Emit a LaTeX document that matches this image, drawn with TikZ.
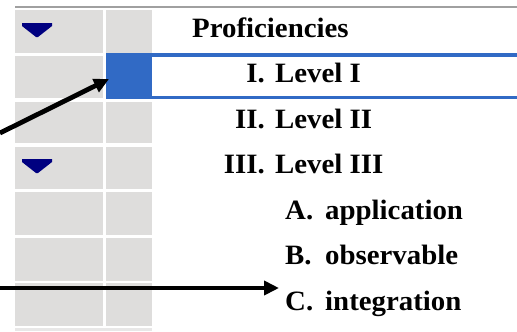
\documentclass[tikz,border=0pt]{standalone}
\usepackage{fontspec}
\setmainfont{Liberation Serif}[FakeStretch=1.03]
\usetikzlibrary{arrows.meta}
\definecolor{cellgray}{RGB}{222,221,220}
\definecolor{selblue}{RGB}{49,106,197}
\definecolor{navy}{RGB}{0,0,128}
\definecolor{linegray}{RGB}{160,160,160}
\tikzset{
  cell/.style={fill=cellgray, draw=none},
  txt/.style={font=\fontsize{28bp}{30bp}\selectfont\bfseries, inner sep=0pt, anchor=base west},
  num/.style={font=\fontsize{28bp}{30bp}\selectfont\bfseries, inner sep=0pt, anchor=base east},
  tri/.style={fill=navy, draw=none},
  pointer/.style={line width=4.8bp, -{Triangle[length=15bp,width=14bp]}},
}
\begin{document}
\begin{tikzpicture}[x=1bp,y=-1bp]
\useasboundingbox (0,0) rectangle (517,331);
\fill[white] (0,0) rectangle (517,331);
% top line
\fill[linegray] (15,5.5) rectangle (517,7.5);
% gray cells
\foreach \t/\b in {10/53,56/98,102/143,147/189,192/235,238/281,283/326}{
  \fill[cellgray] (15,\t) rectangle (103,\b);
  \fill[cellgray] (106,\t) rectangle (152,\b);
}
\fill[cellgray!70!white] (15,328) rectangle (152,331);
% selection
\fill[selblue] (106,53) rectangle (517,99);
\fill[white] (152,56.5) rectangle (517,95.5);
% triangles
\fill[tri] (22,23) -- (52,23) -- (52,26) -- (38,37) -- (36,37) -- (22,26) -- cycle;
\fill[tri] (22,159) -- (52,159) -- (52,162) -- (38,173) -- (36,173) -- (22,162) -- cycle;
% texts
\node[txt] (prof) at (192,37) {Proficiencies};
\node[num] (n1) at (265,82) {I.};
\node[txt] (t1) at (275,82) {Level I};
\node[num] (n2) at (265,128) {II.};
\node[txt] (t2) at (275,128) {Level II};
\node[num] (n3) at (265,173) {III.};
\node[txt] (t3) at (275,173) {Level III};
\node[txt] (na) at (285,219) {A.};
\node[txt] (ta) at (325,219) {application};
\node[txt] (nb) at (285,264) {B.};
\node[txt] (tb) at (325,264) {observable};
\node[txt] (nc) at (285,310) {C.};
\node[txt] (tc) at (325,310) {integration};
% arrows
\coordinate (s1) at (0,133);
\coordinate (e1) at (109,79);
\coordinate (s2) at (0,288);
\coordinate (e2) at (279,288);
\draw[pointer] (s1) -- (e1);
\draw[pointer] (s2) -- (e2);
\end{tikzpicture}
\end{document}
